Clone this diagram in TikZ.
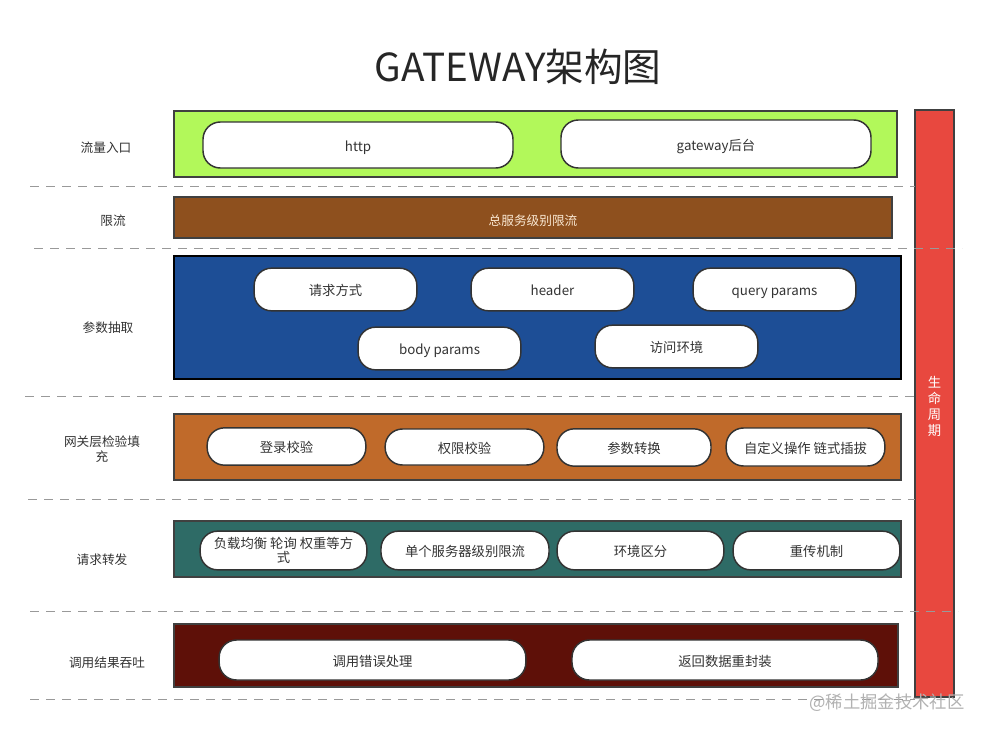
\documentclass[tikz,border=0pt]{standalone}
\usepackage{fontspec}
\setmainfont{Noto Sans CJK SC}
\begin{document}
\begin{tikzpicture}[x=0.75pt,y=-0.75pt,
  band/.style={draw=black!75,line width=1.1pt},
  pill/.style={draw=black!80,fill=white,line width=1.1pt,rounded corners=13pt,text=black!80,font=\fontsize{10}{11}\selectfont,text height=0.95em,text depth=0.05em},
  lab/.style={text=black!80,font=\fontsize{9.5}{11}\selectfont,text height=0.95em,text depth=0.05em},
  sep/.style={draw=black!40,line width=0.75pt,dash pattern=on 7pt off 5pt}]
\useasboundingbox (0,0) rectangle (987,735);
\fill[white] (0,0) rectangle (987,735);
\node[text=black!85,font=\fontsize{29}{34}\selectfont] (title) at (518,67) {GATEWAY架构图};

% separators
\coordinate (s1a) at (30,186); \coordinate (s1b) at (915,186);
\coordinate (s2a) at (34,248); \coordinate (s2b) at (962,248);
\coordinate (s3a) at (25,396); \coordinate (s3b) at (915,396);
\coordinate (s4a) at (28,499); \coordinate (s4b) at (915,499);
\coordinate (s5a) at (30,611); \coordinate (s5b) at (958,611);
\coordinate (s6a) at (30,699); \coordinate (s6b) at (915,699);

% lifecycle bar
\path[draw=black!75,fill={rgb,255:red,232;green,72;blue,63},line width=1.1pt] (915,110) rectangle (954,697);
\node[text=white,font=\fontsize{10}{12}\selectfont,align=center] (life) at (934.5,406) {生\\命\\周\\期};
\draw[sep] (s2a) -- (s2b);
\draw[sep] (s5a) -- (s5b);
\draw[sep] (s1a) -- (s1b);
\draw[sep] (s3a) -- (s3b);
\draw[sep] (s4a) -- (s4b);
\draw[sep] (s6a) -- (s6b);

% row 1
\path[band,fill={rgb,255:red,178;green,248;blue,90}] (174,111) rectangle (897,177);
\node[lab] (l1) at (106,146) {流量入口};
\node[pill,minimum width=232.5pt,minimum height=34.5pt] (http) at (358,145) {http};
\node[pill,minimum width=232.5pt,minimum height=36pt] (gw) at (716,144) {gateway后台};

% row 2
\path[band,fill={rgb,255:red,142;green,80;blue,30}] (174,197) rectangle (892,238);
\node[lab] (l2) at (113,219) {限流};
\node[text={rgb,255:red,250;green,232;blue,210},font=\fontsize{9.5}{11}\selectfont,text height=0.95em,text depth=0.05em] (total) at (533,219) {总服务级别限流};

% row 3
\path[draw=black,line width=1.6pt,fill={rgb,255:red,29;green,78;blue,150}] (174,256) rectangle (901,379);
\node[lab] (l3) at (108,326) {参数抽取};
\node[pill,minimum width=122pt,minimum height=32pt] (p31) at (335.5,289.5) {请求方式};
\node[pill,minimum width=122pt,minimum height=32pt] (p32) at (552.5,289.5) {header};
\node[pill,minimum width=122pt,minimum height=32pt] (p33) at (774.5,289.5) {query params};
\node[pill,minimum width=122pt,minimum height=32pt] (p34) at (439.5,348.5) {body params};
\node[pill,minimum width=122pt,minimum height=32pt] (p35) at (676.5,346.5) {访问环境};

% row 4
\path[band,fill={rgb,255:red,192;green,106;blue,42}] (174,414) rectangle (901,480);
\node[text=black!80,font=\fontsize{9.5}{11}\selectfont,align=center] (l4) at (102,449) {网关层检验填\\充};
\node[pill,minimum width=119pt,minimum height=28pt] (p41) at (286.5,446.5) {登录校验};
\node[pill,minimum width=119pt,minimum height=27pt] (p42) at (464.5,447) {权限校验};
\node[pill,minimum width=115.5pt,minimum height=28pt] (p43) at (634,447.5) {参数转换};
\node[pill,minimum width=119pt,minimum height=28.5pt] (p44) at (805.5,447) {自定义操作 链式插拔};

% row 5
\path[band,fill={rgb,255:red,46;green,107;blue,102}] (174,521) rectangle (901,577);
\node[lab] (l5) at (102,558) {请求转发};
\node[draw=black!80,fill=white,line width=1.1pt,rounded corners=13pt,text=black!80,minimum width=125pt,minimum height=29pt,align=center,inner ysep=1pt,font=\fontsize{10}{10.5}\selectfont] (p51) at (283.5,550.5) {负载均衡 轮询 权重等方\\式};
\node[pill,minimum width=126pt,minimum height=29pt] (p52) at (465,550.5) {单个服务器级别限流};
\node[pill,minimum width=125pt,minimum height=29pt] (p53) at (640.5,550.5) {环境区分};
\node[pill,minimum width=125pt,minimum height=29pt] (p54) at (816.5,550.5) {重传机制};

% row 6
\path[band,fill={rgb,255:red,94;green,16;blue,8}] (174,624) rectangle (898,687);
\node[lab] (l6) at (107,661) {调用结果吞吐};
\node[pill,minimum width=230pt,minimum height=30pt] (p61) at (372.5,660) {调用错误处理};
\node[pill,minimum width=229.5pt,minimum height=30pt] (p62) at (725,660) {返回数据重封装};

% watermark
\node[text=black!30,font=\fontsize{13}{15}\selectfont] (wm) at (887,703) {@稀土掘金技术社区};
\end{tikzpicture}
\end{document}
